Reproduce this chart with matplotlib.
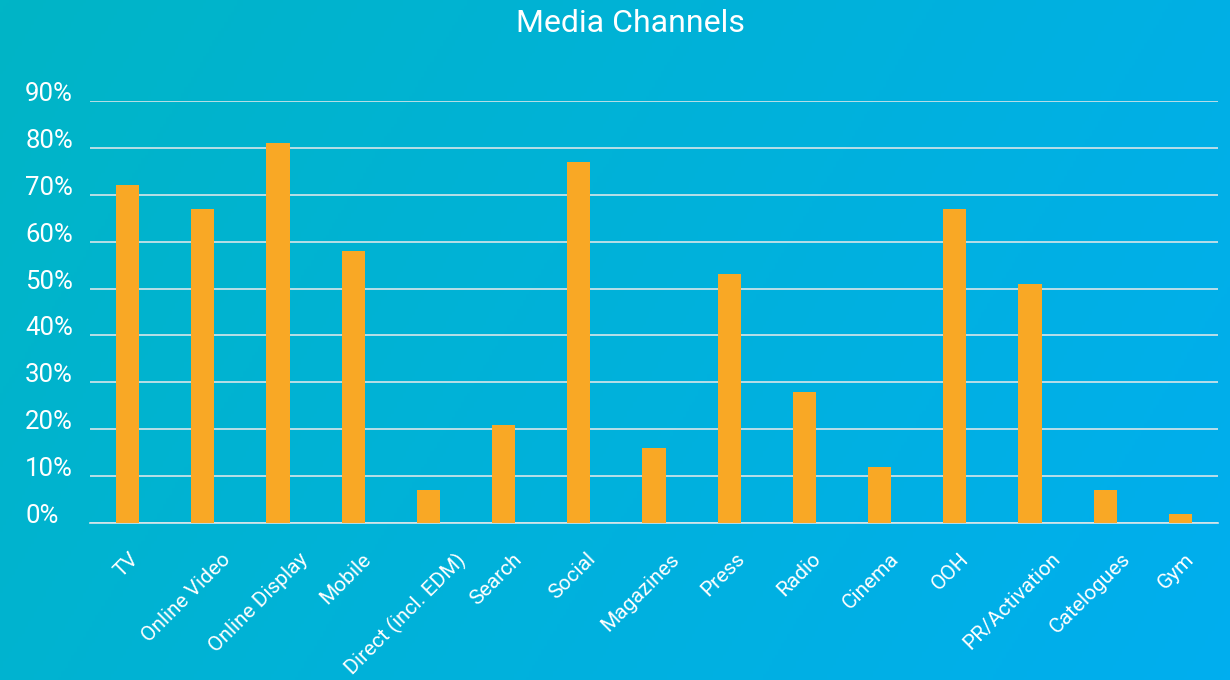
import numpy as np
import matplotlib.pyplot as plt
from matplotlib.colors import LinearSegmentedColormap

channels = ['TV', 'Online Video', 'Online Display', 'Mobile', 'Direct (incl. EDM)',
            'Search', 'Social', 'Magazines', 'Press', 'Radio', 'Cinema', 'OOH',
            'PR/Activation', 'Catelogues', 'Gym']
share = [72, 67, 81, 58, 7, 21, 77, 16, 53, 28, 12, 67, 51, 7, 2]
y_ticks = [0, 10, 20, 30, 40, 50, 60, 70, 80, 90]

plt.rcParams['font.family'] = ['Roboto', 'DejaVu Sans']

fig = plt.figure(figsize=(12.3, 6.8), dpi=100)

# diagonal teal -> blue background
bg = fig.add_axes([0, 0, 1, 1], zorder=-10)
gx, gy = np.meshgrid(np.linspace(0, 1, 400), np.linspace(0, 1, 220))
grad = 0.75 * gx + 0.25 * gy
cmap = LinearSegmentedColormap.from_list('bg', ['#00B5C6', '#00AEEF'])
bg.imshow(grad, cmap=cmap, aspect='auto', extent=[0, 1, 0, 1], origin='upper')
bg.axis('off')

ax = fig.add_axes([90 / 1230, 1 - 523 / 680, 1128 / 1230, 422 / 680])
ax.patch.set_alpha(0)

x = np.arange(len(channels))
ax.bar(x, share, width=0.31, color='#F9A825', zorder=3)

ax.set_xlim(-0.5, len(channels) - 0.5)
ax.set_ylim(0, 90)
ax.set_yticks(y_ticks)
ax.set_yticklabels([f'{v}%' for v in y_ticks], fontsize=18.5, color='white')
ax.yaxis.grid(True, color='#D8E6EA', linewidth=1.2, zorder=0)
ax.tick_params(axis='y', length=0)
for lbl in ax.get_yticklabels():
    lbl.set_horizontalalignment('left')
    lbl.set_verticalalignment('baseline')
    lbl.set_x(-60 / 1128)

# category labels: slanted, pushed right a bit more the longer they are
ax.set_xticks(x)
ax.set_xticklabels([])
ax.tick_params(axis='x', length=0)
cat_labels = [ax.annotate(name, xy=(i, 0), xytext=(0, -19), textcoords='offset points',
                          rotation=45, ha='right', va='top', rotation_mode='anchor',
                          fontsize=15, color='white', annotation_clip=False)
              for i, name in enumerate(channels)]
fig.canvas.draw()
rend = fig.canvas.get_renderer()
for lbl in cat_labels:
    w = lbl.get_window_extent(rend).width
    lbl.xyann = ((0.26 * w - 7) * 72 / fig.dpi, -19)

for side in ['top', 'right', 'left']:
    ax.spines[side].set_visible(False)
ax.spines['bottom'].set_color('#D8E6EA')
ax.spines['bottom'].set_linewidth(1.2)

fig.text(630 / 1230, 1 - 23 / 680, 'Media Channels', ha='center', va='center',
         fontsize=23, color='white')

fig.savefig('out.png', dpi=100)
